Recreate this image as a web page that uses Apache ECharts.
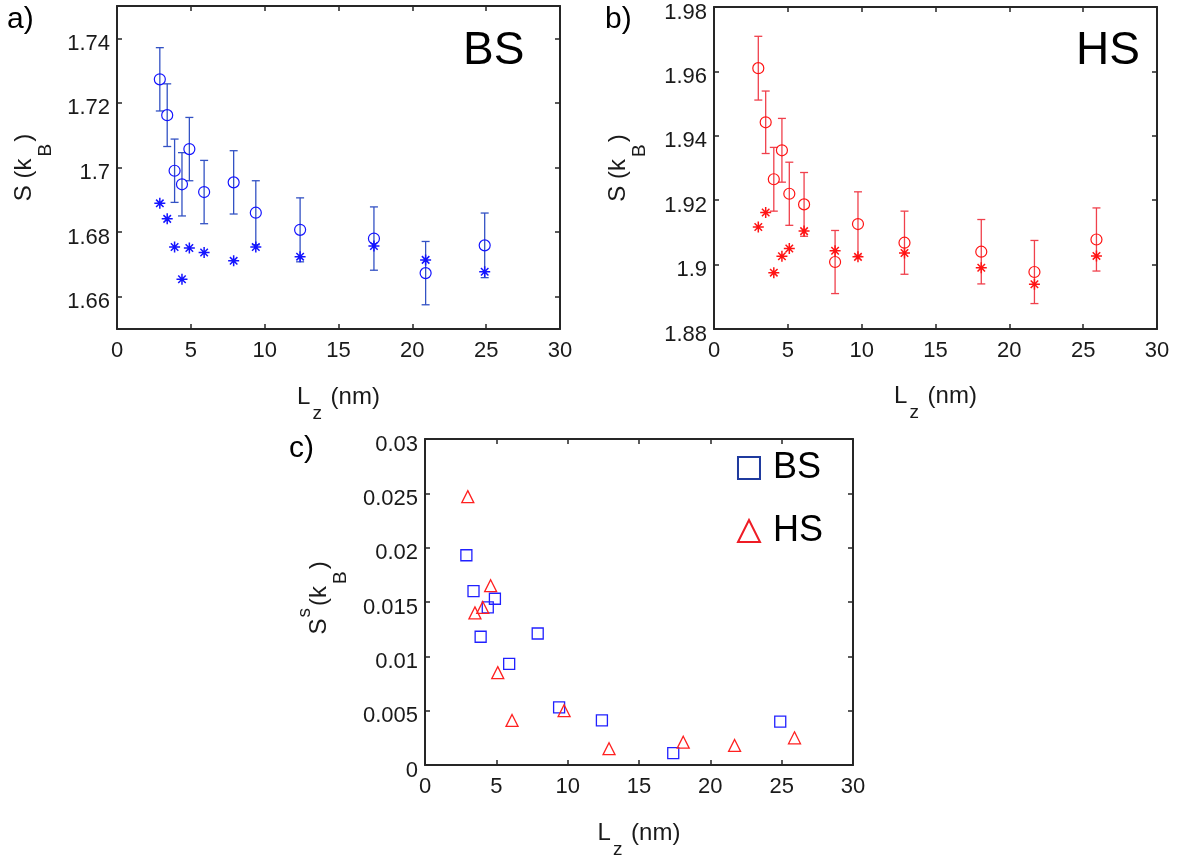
<!DOCTYPE html>
<html>
<head>
<meta charset="utf-8">
<script src="https://cdn.jsdelivr.net/npm/echarts@6/dist/echarts.min.js"></script>
<style>
html,body{margin:0;padding:0;background:#fff;}
#c{width:1183px;height:864px;}
</style>
</head>
<body>
<div id="c"></div>
<script>
// ---- Panel a (BS) ----
const xA = [2.9, 3.4, 3.9, 4.4, 4.9, 5.9, 7.9, 9.4, 12.4, 17.4, 20.9, 24.9];
const meanA = [1.7273, 1.7162, 1.6990, 1.6948, 1.7057, 1.6924, 1.6954, 1.6860, 1.6807, 1.6780, 1.6673, 1.6759];
const errA = [0.0098, 0.0097, 0.0098, 0.0098, 0.0098, 0.0098, 0.0098, 0.0099, 0.0099, 0.0098, 0.0098, 0.0100];
const starA = [1.6889, 1.6841, 1.6754, 1.6654, 1.6751, 1.6737, 1.6711, 1.6754, 1.6724, 1.6757, 1.6714, 1.6677];
const yTicksA = [1.66, 1.68, 1.70, 1.72, 1.74];

// ---- Panel b (HS) ----
const xB = [3.0, 3.5, 4.05, 4.6, 5.1, 6.1, 8.2, 9.75, 12.9, 18.1, 21.7, 25.9];
const meanB = [1.9610, 1.9442, 1.9265, 1.9355, 1.9220, 1.9187, 1.9008, 1.9126, 1.9068, 1.9040, 1.8977, 1.9078];
const errB = [0.0099, 0.0097, 0.0099, 0.0099, 0.0098, 0.0099, 0.0098, 0.0100, 0.0098, 0.0100, 0.0098, 0.0098];
const starB = [1.9117, 1.9162, 1.8975, 1.9026, 1.9050, 1.9104, 1.9043, 1.9024, 1.9036, 1.8990, 1.8939, 1.9027];

// ---- Panel c (surface entropy) ----
const xBS = [2.9, 3.4, 3.9, 4.4, 4.9, 5.9, 7.9, 9.4, 12.4, 17.4, 24.9];
const sBS = [0.0193, 0.0160, 0.0118, 0.0145, 0.0153, 0.0093, 0.0121, 0.0053, 0.0041, 0.0011, 0.0040];
const xHS = [3.0, 3.5, 4.05, 4.6, 5.1, 6.1, 9.75, 12.9, 18.1, 21.7, 25.9];
const sHS = [0.0247, 0.0140, 0.0145, 0.0165, 0.0085, 0.0041, 0.0050, 0.0015, 0.0021, 0.0018, 0.0025];

const AX = '#262626';
const TXT = '#1a1a1a';
const FONT = '"Liberation Sans", Arial, Helvetica, sans-serif';
const blueM = '#1414ff', blueE = '#3352c4';
const redM = '#ff1414', redE = '#f0404c';

const STAR = 'path://M0,5L10,5M5,0L5,10M1.6,1.6L8.4,8.4M8.4,1.6L1.6,8.4';

function fmt(v){ return '{v|' + String(+(+v).toFixed(4)) + '}'; }

const richX = {
  m: {fontSize: 24, fontFamily: FONT, color: TXT},
  sub: {fontSize: 19, fontFamily: FONT, color: TXT, padding: [32, 2, 0, 2]}
};
const richY = {
  m: {fontSize: 24, fontFamily: FONT, color: TXT},
  sub: {fontSize: 19, fontFamily: FONT, color: TXT, padding: [42, 2, 0, 2]},
  sup: {fontSize: 19, fontFamily: FONT, color: TXT, padding: [0, 2, 30, 1]}
};
const richLab = { v: {fontSize: 22, fontFamily: FONT, color: TXT, padding: [11, 0, 0, 0]} };

function xAxes(g, name, gap){
  return [
    {type:'value', gridIndex:g, position:'bottom', min:0, max:30, interval:5,
     axisLine:{show:true, onZero:false, lineStyle:{color:AX, width:2}},
     axisTick:{show:true, inside:true, length:5, lineStyle:{color:AX, width:1.5}},
     axisLabel:{fontSize:22, color:TXT, fontFamily:FONT, margin:11},
     splitLine:{show:false},
     name:name, nameLocation:'middle', nameGap:gap,
     nameTextStyle:{rich:richX}},
    {type:'value', gridIndex:g, position:'top', min:0, max:30, interval:5,
     axisLine:{show:true, onZero:false, lineStyle:{color:AX, width:2}},
     axisTick:{show:true, inside:true, length:5, lineStyle:{color:AX, width:1.5}},
     axisLabel:{show:false}, splitLine:{show:false}}
  ];
}
function yAxes(g, min, max, ticks, interval, name, gap){
  const common = {type:'value', gridIndex:g, min:min, max:max, splitLine:{show:false}};
  const left = Object.assign({}, common, {
    position:'left',
    axisLine:{show:true, onZero:false, lineStyle:{color:AX, width:2}},
    axisTick:{show:true, inside:true, length:5, lineStyle:{color:AX, width:1.5}},
    axisLabel:{fontSize:22, color:TXT, fontFamily:FONT, margin:7, formatter:fmt, rich:richLab, showMinLabel:true, showMaxLabel:true},
    name:name, nameLocation:'middle', nameGap:gap, nameRotate:90,
    nameTextStyle:{rich:richY}
  });
  const right = Object.assign({}, common, {
    position:'right',
    axisLine:{show:true, onZero:false, lineStyle:{color:AX, width:2}},
    axisTick:{show:true, inside:true, length:5, lineStyle:{color:AX, width:1.5}},
    axisLabel:{show:false}
  });
  if (ticks) {
    left.axisTick.customValues = ticks; left.axisLabel.customValues = ticks;
    right.axisTick.customValues = ticks;
  } else {
    left.interval = interval; right.interval = interval;
  }
  return [left, right];
}

function errSeries(name, xi, yi, xs, ys, es, color){
  return {
    type:'custom', name:name, xAxisIndex:xi, yAxisIndex:yi,
    data: xs.map((x,i)=>[x, ys[i], es[i]]),
    renderItem: function(params, api){
      const x = api.value(0), y = api.value(1), e = api.value(2);
      const t = api.coord([x, y + e]);
      const b = api.coord([x, y - e]);
      const w = 4;
      const st = {stroke: color, lineWidth: 1.3};
      return {type:'group', children:[
        {type:'line', shape:{x1:t[0], y1:t[1], x2:b[0], y2:b[1]}, style:st},
        {type:'line', shape:{x1:t[0]-w, y1:t[1], x2:t[0]+w, y2:t[1]}, style:st},
        {type:'line', shape:{x1:b[0]-w, y1:b[1], x2:b[0]+w, y2:b[1]}, style:st}
      ]};
    },
    silent:true, z:2
  };
}
function scat(name, xi, yi, xs, ys, symbol, size, color, bw){
  return {
    type:'scatter', name:name, xAxisIndex:xi, yAxisIndex:yi,
    data: xs.map((x,i)=>[x, ys[i]]),
    symbol:symbol, symbolSize:size,
    itemStyle:{color:'rgba(0,0,0,0)', borderColor:color, borderWidth:bw, opacity:1},
    emphasis:{disabled:true}, silent:true, z:3
  };
}

const chart = echarts.init(document.getElementById('c'), null, {renderer:'canvas'});
const xLabel = '{m|L}{sub|z}{m| (nm)}';
const option = {
  backgroundColor:'#fff',
  animation:false,
  grid:[
    {left:117, top:6, width:443, height:323},
    {left:714, top:7, width:443, height:322},
    {left:425, top:439, width:428, height:326}
  ],
  xAxis: [].concat(xAxes(0, xLabel, 43), xAxes(1, xLabel, 42), xAxes(2, xLabel, 43)),
  yAxis: [].concat(
    yAxes(0, 1.65, 1.75, yTicksA, null, '{m|S (k}{sub|B}{m|)}', 62),
    yAxes(1, 1.88, 1.98, null, 0.02, '{m|S (k}{sub|B}{m|)}', 65),
    yAxes(2, 0, 0.03, null, 0.005, '{sup| }{m|S}{sup|s}{m|(k}{sub|B}{m|)}', 75)
  ),
  legend:{
    orient:'vertical', right:360, top:450, padding:0, itemWidth:22, itemHeight:22, itemGap:27,
    textStyle:{fontSize:36, color:'#000', fontFamily:FONT, padding:[0,0,0,8]},
    data:[
      {name:'BS', icon:'rect', itemStyle:{color:'rgba(0,0,0,0)', borderColor:'#1f3a9e', borderWidth:2}},
      {name:'HS', icon:'triangle', itemStyle:{color:'rgba(0,0,0,0)', borderColor:'#ee1c25', borderWidth:2}}
    ],
    selectedMode:false
  },
  graphic:[
    {type:'text', left:7, top:5, style:{text:'a)', fontSize:30, fontFamily:FONT, fill:'#000'}},
    {type:'text', left:605, top:5, style:{text:'b)', fontSize:30, fontFamily:FONT, fill:'#000'}},
    {type:'text', left:289, top:434, style:{text:'c)', fontSize:30, fontFamily:FONT, fill:'#000'}},
    {type:'text', left:463, top:28, style:{text:'BS', fontSize:46, fontFamily:FONT, fill:'#000'}},
    {type:'text', left:1076, top:28, style:{text:'HS', fontSize:46, fontFamily:FONT, fill:'#000'}}
  ],
  series:[
    errSeries('errA', 0, 0, xA, meanA, errA, blueE),
    scat('meanA', 0, 0, xA, meanA, 'circle', 11, blueM, 1.2),
    scat('starA', 0, 0, xA, starA, STAR, 11, blueM, 1.5),
    errSeries('errB', 2, 2, xB, meanB, errB, redE),
    scat('meanB', 2, 2, xB, meanB, 'circle', 11, redM, 1.2),
    scat('starB', 2, 2, xB, starB, STAR, 11, redM, 1.5),
    scat('BS', 4, 4, xBS, sBS, 'rect', 11, '#2020ff', 1.3),
    scat('HS', 4, 4, xHS, sHS, 'triangle', 12, '#ff2020', 1.3)
  ]
};
chart.setOption(option);
</script>
</body>
</html>
